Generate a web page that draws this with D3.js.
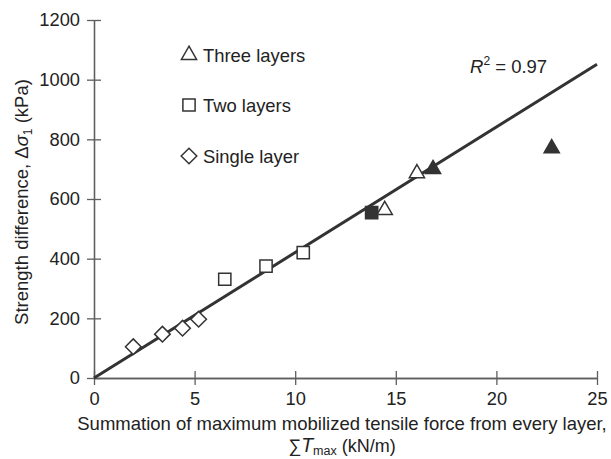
<!DOCTYPE html>
<html>
<head>
<meta charset="utf-8">
<script src="https://cdn.jsdelivr.net/npm/d3@7/dist/d3.min.js"></script>
<style>
  html, body { margin: 0; padding: 0; background: #fff; }
  svg { display: block; font-family: "Liberation Sans", Arial, sans-serif; }
</style>
</head>
<body>
<svg id="chart" width="611" height="459"></svg>
<script>
// Strength difference vs. summed maximum mobilized tensile force
const singleX = [1.95, 3.4, 4.4, 5.2];
const singleY = [105, 147, 167, 197];
const twoX = [6.5, 8.55, 10.4];
const twoY = [331, 375, 420];
const twoFilledX = [13.8];
const twoFilledY = [554];
const threeX = [14.45, 16.05];
const threeY = [563, 686];
const threeFilledX = [16.85, 22.75];
const threeFilledY = [700, 770];
const fitX = [0, 25];
const fitY = [0, 1052];
const xTicks = [0, 5, 10, 15, 20, 25];
const yTicks = [0, 200, 400, 600, 800, 1000, 1200];

const svg = d3.select("#chart");
const x = d3.scaleLinear().domain([0, 25]).range([94, 597]);
const y = d3.scaleLinear().domain([0, 1200]).range([378, 20]);

const axisColor = "#5e5e5e";
const ink = "#333";
const textColor = "#222";
const FONT = "'Liberation Sans', Arial, sans-serif";

function styleAxis(g) {
  g.selectAll("path, line").attr("stroke", axisColor).attr("stroke-width", 1.3);
  g.selectAll("text").attr("fill", textColor).attr("font-size", 18.3)
    .attr("font-family", FONT);
}

// y axis: ticks crossing both sides
svg.append("g").attr("transform", `translate(${x(0)},0)`)
  .call(d3.axisLeft(y).tickValues(yTicks).tickFormat(d3.format("d"))
    .tickSizeInner(7).tickSizeOuter(0).tickPadding(7))
  .call(styleAxis);
svg.append("g").attr("transform", `translate(${x(0)},0)`)
  .call(d3.axisRight(y).tickValues(yTicks).tickSizeInner(7).tickSizeOuter(0).tickFormat(""))
  .call(styleAxis);

// x axis: ticks crossing both sides
svg.append("g").attr("transform", `translate(0,${y(0)})`)
  .call(d3.axisBottom(x).tickValues(xTicks).tickSizeInner(7).tickSizeOuter(0).tickPadding(7))
  .call(styleAxis);
svg.append("g").attr("transform", `translate(0,${y(0)})`)
  .call(d3.axisTop(x).tickValues(xTicks).tickSizeInner(7).tickSizeOuter(0).tickFormat(""))
  .call(styleAxis);

// regression line
svg.append("line")
  .attr("x1", x(fitX[0])).attr("y1", y(fitY[0]))
  .attr("x2", x(fitX[1])).attr("y2", y(fitY[1]))
  .attr("stroke", ink).attr("stroke-width", 3);

const diamond = d3.symbol().type(d3.symbolDiamond2).size(155);
const square = d3.symbol().type(d3.symbolSquare2).size(190);
const triangle = d3.symbol().type(d3.symbolTriangle2).size(165);

function plot(xs, ys, gen, filled) {
  svg.append("g").selectAll("path")
    .data(xs.map((v, i) => [v, ys[i]]))
    .join("path")
    .attr("transform", d => `translate(${x(d[0])},${y(d[1])})`)
    .attr("d", gen)
    .attr("fill", filled ? ink : "#fff")
    .attr("stroke", ink)
    .attr("stroke-width", 1.5);
}

plot(singleX, singleY, diamond, false);
plot(twoX, twoY, square, false);
plot(twoFilledX, twoFilledY, square, true);
plot(threeX, threeY, triangle, false);
plot(threeFilledX, threeFilledY, triangle, true);

// legend
const legendItems = [
  { label: "Three layers", gen: triangle, cy: 55 },
  { label: "Two layers", gen: square, cy: 105 },
  { label: "Single layer", gen: diamond, cy: 156 }
];
const lg = svg.append("g");
legendItems.forEach(it => {
  lg.append("path")
    .attr("transform", `translate(189,${it.cy})`)
    .attr("d", it.gen)
    .attr("fill", "#fff").attr("stroke", ink).attr("stroke-width", 1.5);
  lg.append("text")
    .attr("x", 203).attr("y", it.cy + 6.5)
    .attr("font-size", 18.4).attr("fill", textColor)
    .text(it.label);
});

// R squared label
const r2 = svg.append("text").attr("x", 470).attr("y", 73)
  .attr("font-size", 18.5).attr("fill", textColor);
r2.append("tspan").attr("font-style", "italic").text("R");
r2.append("tspan").attr("font-size", 12).attr("dy", -8).text("2");
r2.append("tspan").attr("dy", 8).text(" = 0.97");

// y axis title
const yt = svg.append("text")
  .attr("transform", "translate(28,202) rotate(-90)")
  .attr("text-anchor", "middle")
  .attr("font-size", 18.5).attr("fill", textColor);
yt.append("tspan").text("Strength difference, Δ");
yt.append("tspan").attr("font-style", "italic").text("σ");
yt.append("tspan").attr("font-size", 12).attr("dy", 4).text("1");
yt.append("tspan").attr("dy", -4).text(" (kPa)");

// x axis title
svg.append("text")
  .attr("x", 342).attr("y", 430)
  .attr("text-anchor", "middle")
  .attr("font-size", 18.5).attr("fill", textColor)
  .text("Summation of maximum mobilized tensile force from every layer,");
const xt = svg.append("text")
  .attr("x", 342).attr("y", 452)
  .attr("text-anchor", "middle")
  .attr("font-size", 18).attr("fill", textColor);
xt.append("tspan").attr("font-weight", 300).text("∑");
xt.append("tspan").attr("font-style", "italic").attr("font-size", 19.5).text("T");
xt.append("tspan").attr("font-size", 12.5).attr("dy", 3).text("max");
xt.append("tspan").attr("dy", -3).text(" (kN/m)");
</script>
</body>
</html>
